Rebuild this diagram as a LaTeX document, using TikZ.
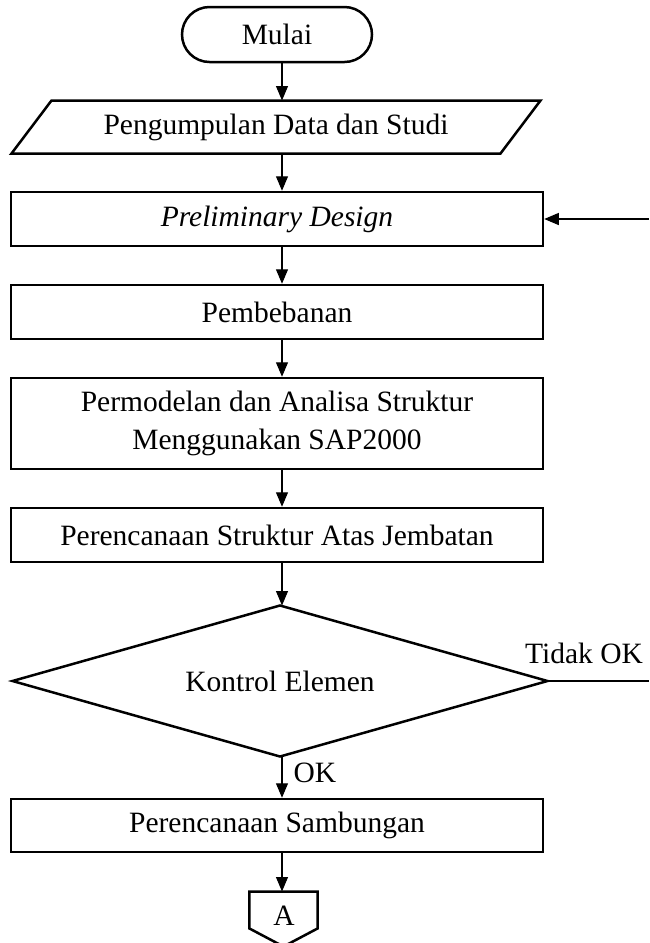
\documentclass[tikz,border=0pt]{standalone}
\usepackage{fontspec}
\setmainfont{Liberation Serif}
\usetikzlibrary{shapes.misc,shapes.geometric,arrows.meta}
\begin{document}
\begin{tikzpicture}[x=0.4pt,y=-0.4pt,
  every node/.style={font=\fontsize{11.8}{15.5}\selectfont},
  box/.style={draw,line width=1pt,rectangle,minimum width=212.8pt,minimum height=21.6pt,inner sep=0pt,align=center},
  conn/.style={line width=0.45pt,-{Triangle[length=5.8pt,width=4.8pt]}},
  plain/.style={line width=0.45pt},
  outline/.style={line width=1pt,line join=miter}]
\useasboundingbox (0,0) rectangle (649,943);
\coordinate (ax) at (282,0);
\node[draw,line width=1pt,rounded rectangle,minimum width=76pt,minimum height=22pt,inner sep=0pt] (mulai) at (277,34.5) {Mulai};
\node[minimum width=195.2pt,minimum height=20.8pt,inner sep=0pt] (data) at (276,127) {Pengumpulan Data dan Studi};
\draw[outline] ([xshift=8pt]data.north west) -- ([xshift=8pt]data.north east) -- ([xshift=-8pt]data.south east) -- ([xshift=-8pt]data.south west) -- cycle;
\node[box] (prelim) at (277,219) {\textit{Preliminary Design}};
\node[box] (beban) at (277,312) {Pembebanan};
\node[box,minimum height=36.4pt] (model) at (277,423.5) {Permodelan dan Analisa Struktur\\Menggunakan SAP2000};
\node[box] (atas) at (277,535) {Perencanaan Struktur Atas Jembatan};
\node[minimum width=213.6pt,minimum height=60pt,inner sep=0pt] (dec) at (280,681) {Kontrol Elemen};
\draw[outline] (dec.north) -- (dec.east) -- (dec.south) -- (dec.west) -- cycle;
\node[box,minimum height=21.2pt] (samb) at (277,825.5) {Perencanaan Sambungan};
\node[minimum width=26.8pt,minimum height=14.4pt,inner sep=0pt] (offA) at (283.5,910) {};
\draw[outline] (offA.north west) -- (offA.north east) -- (offA.south east) -- ([yshift=-7.2pt]offA.south) -- (offA.south west) -- cycle;
\node (atext) at (284,916) {A};
\draw[conn] (mulai.south -| ax) -- (data.north -| ax);
\draw[conn] (data.south -| ax) -- (prelim.north -| ax);
\draw[conn] (prelim.south -| ax) -- (beban.north -| ax);
\draw[conn] (beban.south -| ax) -- (model.north -| ax);
\draw[conn] (model.south -| ax) -- (atas.north -| ax);
\draw[conn] (atas.south -| ax) -- (dec.north -| ax);
\draw[conn] (dec.south -| ax) -- (samb.north -| ax);
\draw[conn] (samb.south -| ax) -- (offA.north -| ax);
\coordinate (r1) at (649,219);
\coordinate (r2) at (649,681);
\draw[conn] (r1) -- (prelim.east);
\draw[plain] (dec.east) -- (r2);
\node[anchor=base] (tok) at (584,663) {Tidak OK};
\node (ok) at (315,773) {OK};
\end{tikzpicture}
\end{document}
